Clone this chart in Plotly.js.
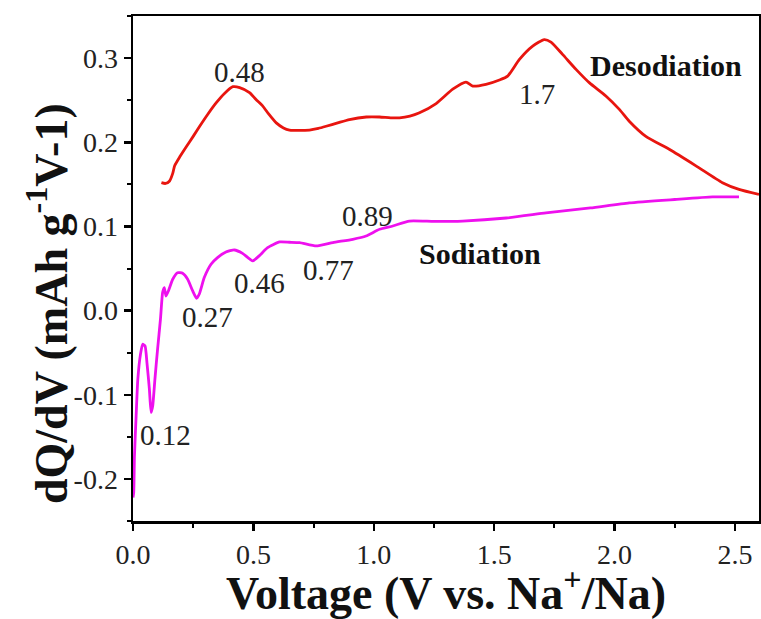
<!DOCTYPE html>
<html>
<head>
<meta charset="utf-8">
<script src="https://cdn.plot.ly/plotly-3.0.1.min.js"></script>
<style>html,body{margin:0;padding:0;background:#fff;}#chart{width:761px;height:619px;}</style>
</head>
<body>
<div id="chart"></div>
<script>
// Desodiation (red) curve
const desoV = [0.118, 0.135, 0.152, 0.165, 0.173, 0.195, 0.222, 0.250, 0.277, 0.310, 0.346, 0.380, 0.415, 0.443, 0.484, 0.510, 0.539, 0.565, 0.595, 0.625, 0.650, 0.690, 0.733, 0.770, 0.802, 0.850, 0.899, 0.969, 1.024, 1.070, 1.107, 1.150, 1.190, 1.259, 1.328, 1.383, 1.411, 1.466, 1.522, 1.556, 1.605, 1.660, 1.708, 1.736, 1.784, 1.840, 1.895, 1.964, 2.020, 2.061, 2.130, 2.227, 2.338, 2.448, 2.517, 2.600];
const desoQ = [0.152, 0.151, 0.154, 0.163, 0.172, 0.183, 0.195, 0.207, 0.219, 0.233, 0.247, 0.258, 0.266, 0.265, 0.259, 0.251, 0.243, 0.233, 0.223, 0.217, 0.2145, 0.2140, 0.2145, 0.2165, 0.219, 0.223, 0.227, 0.230, 0.230, 0.229, 0.229, 0.231, 0.235, 0.246, 0.263, 0.2715, 0.2667, 0.2688, 0.274, 0.2786, 0.2985, 0.3143, 0.322, 0.319, 0.3044, 0.2866, 0.2708, 0.255, 0.239, 0.225, 0.207, 0.1916, 0.172, 0.152, 0.144, 0.138];

// Sodiation (magenta) curve
const sodV = [0.000, 0.003, 0.006, 0.013, 0.020, 0.031, 0.040, 0.050, 0.058, 0.068, 0.075, 0.082, 0.091, 0.102, 0.114, 0.123, 0.130, 0.137, 0.147, 0.165, 0.185, 0.206, 0.227, 0.248, 0.264, 0.275, 0.296, 0.324, 0.351, 0.386, 0.421, 0.455, 0.497, 0.524, 0.559, 0.609, 0.650, 0.692, 0.761, 0.830, 0.913, 0.968, 1.024, 1.079, 1.148, 1.250, 1.369, 1.550, 1.715, 1.900, 2.061, 2.250, 2.407, 2.517];
const sodQ = [-0.222, -0.216, -0.173, -0.125, -0.0816, -0.052, -0.040, -0.042, -0.062, -0.093, -0.121, -0.113, -0.0816, -0.046, -0.0103, 0.0214, 0.0273, 0.0173, 0.0233, 0.0372, 0.045, 0.0443, 0.0372, 0.0233, 0.0146, 0.0194, 0.0392, 0.055, 0.063, 0.0696, 0.072, 0.068, 0.059, 0.065, 0.0748, 0.0815, 0.0812, 0.0808, 0.0768, 0.0808, 0.0847, 0.0886, 0.0966, 0.1005, 0.1064, 0.1060, 0.1064, 0.110, 0.116, 0.122, 0.128, 0.132, 0.135, 0.135];

// Peak labels
const labelText = ["0.48", "1.7", "0.89", "0.46", "0.77", "0.27", "0.12"];
const labelX = [0.443, 1.679, 0.973, 0.526, 0.812, 0.310, 0.136];
const labelY = [0.284, 0.257, 0.112, 0.0325, 0.048, -0.008, -0.148];

// Series names
const seriesText = ["Desodiation", "Sodiation"];
const seriesX = [2.215, 1.442];
const seriesY = [0.291, 0.068];

// Tick labels
const xTickVals = [0, 0.5, 1.0, 1.5, 2.0, 2.5];
const xTickText = ["0.0", "0.5", "1.0", "1.5", "2.0", "2.5"];
const yTickVals = [-0.2, -0.1, 0.0, 0.1, 0.2, 0.3];
const yTickText = ["-0.2", "-0.1", "0.0", "0.1", "0.2", "0.3"];

const FONT = "Liberation Serif";

const traces = [
  {x: desoV, y: desoQ, type: "scatter", mode: "lines", line: {color: "#e8150f", width: 2.8, shape: "spline", smoothing: 0.6}, name: "Desodiation"},
  {x: sodV, y: sodQ, type: "scatter", mode: "lines", line: {color: "#ee10ee", width: 2.8, shape: "spline", smoothing: 0.5}, name: "Sodiation"}
];

const annotations = [];
labelText.forEach((t, i) => annotations.push({
  x: labelX[i], y: labelY[i], xref: "x", yref: "y", text: t, showarrow: false,
  font: {family: FONT, size: 29, color: "#222"}
}));
seriesText.forEach((t, i) => annotations.push({
  x: seriesX[i], y: seriesY[i], xref: "x", yref: "y", text: "<b>" + t + "</b>", showarrow: false,
  font: {family: FONT, size: 30, color: "#111"}
}));
// y-axis title
annotations.push({
  x: -0.137, y: 0.43, xref: "paper", yref: "paper", textangle: -90,
  xanchor: "center", yanchor: "middle", showarrow: false,
  text: "<b>dQ/dV (mAh g<sup>-1</sup>V-1)</b>",
  font: {family: FONT, size: 46, color: "#111"}
});

const layout = {
  width: 761, height: 619,
  margin: {l: 133, r: 2, t: 16, b: 98},
  paper_bgcolor: "#fff", plot_bgcolor: "#fff",
  showlegend: false,
  font: {family: FONT, color: "#222"},
  xaxis: {
    range: [0, 2.6], tickmode: "array", tickvals: xTickVals, ticktext: xTickText,
    showgrid: false, zeroline: false,
    showline: true, linecolor: "#000", linewidth: 2.5, mirror: true,
    ticks: "outside", ticklen: 7, tickwidth: 2.5, tickcolor: "#000",
    minor: {ticks: "outside", ticklen: 4, tickwidth: 2, tickcolor: "#000", tickmode: "linear", tick0: 0, dtick: 0.25, showgrid: false},
    tickfont: {family: FONT, size: 28, color: "#222"},
    title: {text: "<b>Voltage (V vs. Na<sup>+</sup>/Na)</b>", font: {family: FONT, size: 46, color: "#111"}, standoff: 6}
  },
  yaxis: {
    range: [-0.25, 0.35], tickmode: "array", tickvals: yTickVals, ticktext: yTickText,
    showgrid: false, zeroline: false,
    showline: true, linecolor: "#000", linewidth: 2.5, mirror: true,
    ticks: "outside", ticklen: 7, tickwidth: 2.5, tickcolor: "#000",
    minor: {ticks: "outside", ticklen: 4, tickwidth: 2, tickcolor: "#000", tickmode: "linear", tick0: 0, dtick: 0.05, showgrid: false},
    tickfont: {family: FONT, size: 28, color: "#222"}
  },
  annotations: annotations
};

Plotly.newPlot("chart", traces, layout, {displayModeBar: false, staticPlot: true});
</script>
</body>
</html>
